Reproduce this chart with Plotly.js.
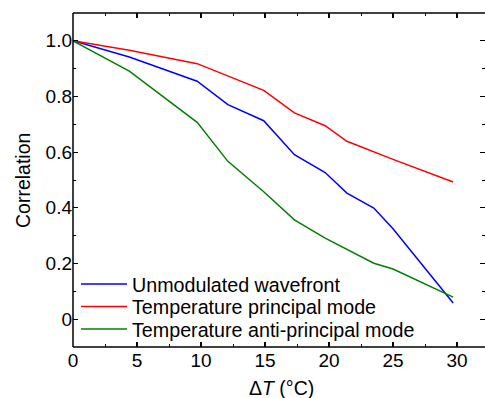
<!DOCTYPE html>
<html>
<head>
<meta charset="utf-8">
<script src="https://cdn.plot.ly/plotly-3.0.1.min.js"></script>
<style>
html,body{margin:0;padding:0;overflow:hidden;background:#fff;}
#chart{width:485px;height:398px;}
</style>
</head>
<body>
<div id="chart"></div>
<script>
// Data
const deltaT = [0, 4.4, 9.7, 12.1, 14.9, 17.3, 19.7, 21.4, 23.5, 25.0, 29.7];
const unmodulated = [1.0, 0.942, 0.855, 0.771, 0.713, 0.591, 0.527, 0.453, 0.399, 0.325, 0.058];
const principal   = [1.0, 0.966, 0.918, 0.873, 0.822, 0.741, 0.695, 0.639, 0.601, 0.574, 0.493];
const antiPrincipal = [1.0, 0.891, 0.707, 0.567, 0.458, 0.357, 0.291, 0.250, 0.201, 0.180, 0.079];

const seriesNames = ["Unmodulated wavefront", "Temperature principal mode", "Temperature anti-principal mode"];
const xTickVals = [0, 5, 10, 15, 20, 25, 30];
const yTickVals = [0, 0.2, 0.4, 0.6, 0.8, 1.0];
const yTickText = ["0", "0.2", "0.4", "0.6", "0.8", "1.0"];
const xTitle = "Δ<i>T</i> (°C)";
const yTitle = "Correlation";

const FONT = "Liberation Sans, Arial, Helvetica, sans-serif";

const traces = [
  {x: deltaT, y: unmodulated, name: seriesNames[0], mode: "lines", legend: "legend", line: {color: "#0000ff", width: 1.5}},
  {x: deltaT, y: principal, name: seriesNames[1], mode: "lines", legend: "legend2", line: {color: "#ff0000", width: 1.5}},
  {x: deltaT, y: antiPrincipal, name: seriesNames[2], mode: "lines", legend: "legend3", line: {color: "#008000", width: 1.5}}
];

function leg(yc) {
  return {
    x: 0.0073, y: yc, xanchor: "left", yanchor: "middle",
    bgcolor: "rgba(0,0,0,0)", borderwidth: 0,
    font: {family: FONT, size: 19.7, color: "#000"},
    itemwidth: 46
  };
}

function spine(x0, y0, x1, y1) {
  return {type: "line", xref: "paper", yref: "paper", x0: x0, y0: y0, x1: x1, y1: y1,
          line: {color: "#000", width: 1.5}, layer: "above"};
}

const layout = {
  width: 485, height: 398,
  margin: {l: 73, r: 0, t: 13, b: 51, pad: 0},
  paper_bgcolor: "#fff", plot_bgcolor: "#fff",
  font: {family: FONT, size: 19, color: "#000"},
  showlegend: true,
  legend: leg(0.188),
  legend2: leg(0.1207),
  legend3: leg(0.053),
  shapes: [spine(0, 0, 0, 1), spine(0, 1, 1.01, 1), spine(0, 0, 1.01, 0)],
  annotations: [
    {text: xTitle, xref: "paper", yref: "paper", x: 0.5066, y: -0.1228, xanchor: "center", yanchor: "middle",
     showarrow: false, font: {family: FONT, size: 19.5, color: "#000"}},
    {text: yTitle, xref: "paper", yref: "paper", x: -0.1214, y: 0.5, xanchor: "center", yanchor: "middle",
     textangle: -90, showarrow: false, font: {family: FONT, size: 19.5, color: "#000"}}
  ],
  xaxis: {
    range: [0, (412 / 12.8)],
    tickvals: xTickVals,
    ticks: "inside", ticklen: 5, tickwidth: 1.2, tickcolor: "#000",
    minor: {dtick: 2.5, tick0: 0, ticks: "inside", ticklen: 3, tickwidth: 1, tickcolor: "#000"},
    showline: false, mirror: "allticks",
    showgrid: false, zeroline: false,
    tickfont: {family: FONT, size: 19}
  },
  yaxis: {
    range: [-0.1, 1.1],
    tickvals: yTickVals, ticktext: yTickText,
    ticks: "inside", ticklen: 5, tickwidth: 1.2, tickcolor: "#000",
    minor: {dtick: 0.1, tick0: 0, ticks: "inside", ticklen: 3, tickwidth: 1, tickcolor: "#000"},
    showline: false, mirror: "allticks",
    showgrid: false, zeroline: false,
    tickfont: {family: FONT, size: 19}
  }
};

Plotly.newPlot("chart", traces, layout, {displayModeBar: false, staticPlot: true});
</script>
</body>
</html>
